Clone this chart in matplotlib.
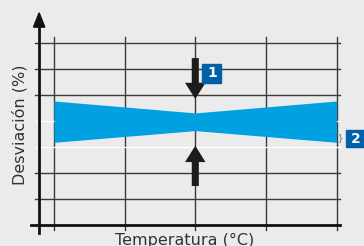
import matplotlib
matplotlib.use('Agg')
import matplotlib.pyplot as plt
from matplotlib.patches import Rectangle

# chart data (grid units)
band_x = [0, 2, 4]
band_top = [4.77, 4.31, 4.77]
band_bottom = [3.18, 3.63, 3.18]
vgrid = [0, 1, 2, 3, 4]
hgrid_dark = [1, 2, 5, 6, 7]
hgrid_light = [3, 4]
xlabel = 'Temperatura (°C)'
ylabel = 'Desviación (%)'
labels = ['1', '2']

bg = '#ebebeb'
blue = '#00a0e1'
dark_blue = '#0061a9'
plt.rcParams['font.family'] = ['Liberation Sans Narrow', 'DejaVu Sans']

fig = plt.figure(figsize=(3.64, 2.46), dpi=100, facecolor=bg)
ax = fig.add_axes([0, 0, 1, 1])
ax.set_facecolor(bg)
ax.set_xlim(-0.764, 4.388)
ax.set_ylim(-0.808, 8.654)
ax.axis('off')

# grid
for x in vgrid:
    ax.plot([x, x], [-0.19, 7.23], color='#3a3a3a', lw=1.0, zorder=1)
for y in hgrid_dark:
    ax.plot([-0.27, 4.05], [y, y], color='#3a3a3a', lw=1.0, zorder=1)
for y in hgrid_light:
    ax.plot([-0.27, 4.05], [y, y], color='white', lw=1.0, zorder=1)

# band
ax.fill_between(band_x, band_bottom, band_top, color=blue, lw=0, zorder=2)

# axes
ax.plot([-0.33, 4.05], [0, 0], color='#111111', lw=2.0, zorder=3)
ax.plot([-0.21, -0.21], [-0.3, 7.9], color='#111111', lw=2.0, zorder=3)
ax.arrow(-0.21, 7.6, 0, 0.01, width=0.0, head_width=0.16, head_length=0.55,
         color='#111111', length_includes_head=False, zorder=4)

# arrows
ax.arrow(2, 6.42, 0, -1.57, width=0.1, head_width=0.29, head_length=0.62,
         length_includes_head=True, color='#1c1c1c', lw=0, zorder=4)
ax.arrow(2, 1.5, 0, 1.55, width=0.1, head_width=0.29, head_length=0.63,
         length_includes_head=True, color='#1c1c1c', lw=0, zorder=4)

# numbered labels
ax.add_patch(Rectangle((2.1, 5.48), 0.27, 0.73, color=dark_blue, zorder=4))
ax.text(2.235, 5.84, labels[0], color='white', fontsize=10, fontweight='bold',
        ha='center', va='center', zorder=5)
ax.add_patch(Rectangle((4.135, 2.99), 0.3, 0.65, color=dark_blue, zorder=4))
ax.text(4.27, 3.31, labels[1], color='white', fontsize=10, fontweight='bold',
        ha='center', va='center', zorder=5)
ax.text(4.06, 3.37, '}', color='#666666', fontsize=6, ha='center', va='center')

ax.text(-0.48, 3.85, ylabel, rotation=90, fontsize=11.5, color='#333333',
        ha='center', va='center')
ax.text(1.85, -0.6, xlabel, fontsize=11.5, color='#333333',
        ha='center', va='center')

fig.savefig('out.png', dpi=100, facecolor=bg)
